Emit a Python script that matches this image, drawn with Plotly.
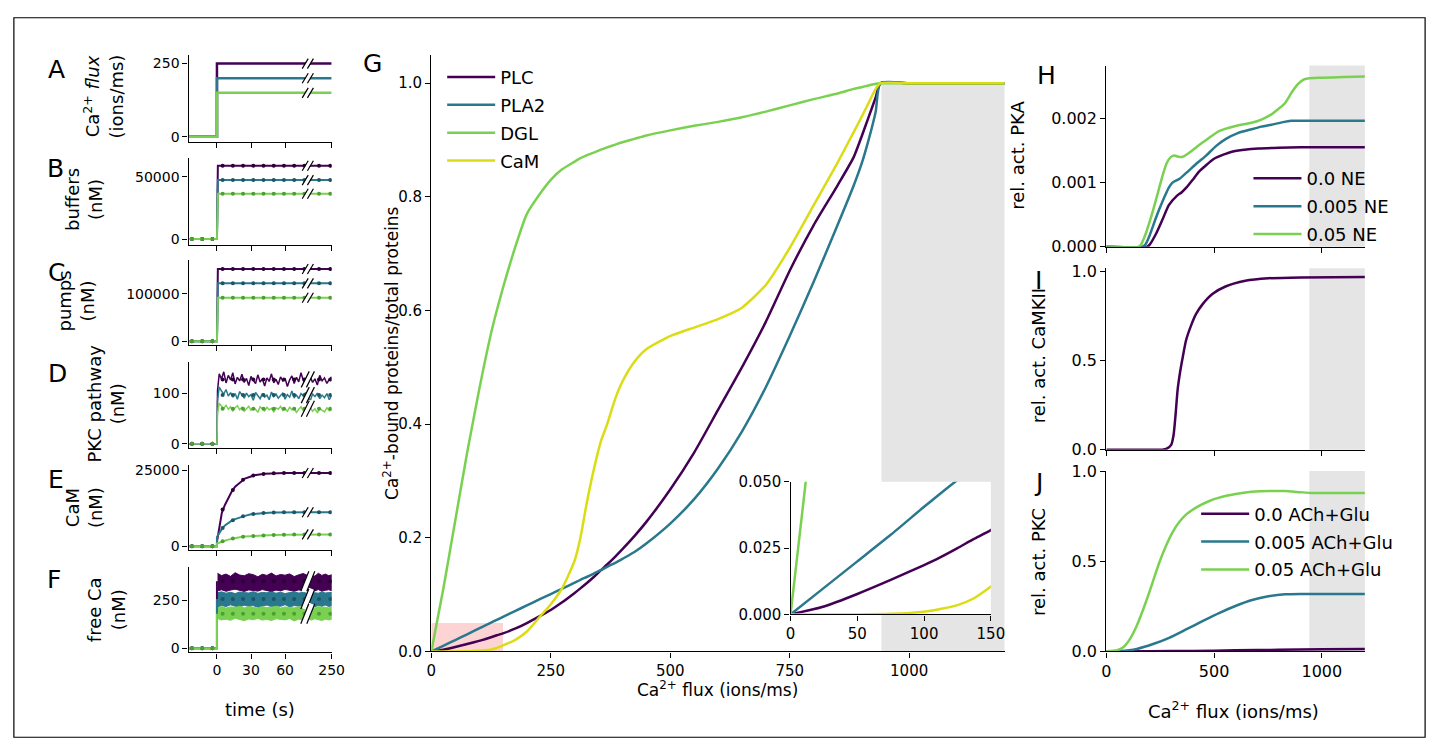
import plotly.graph_objects as go

PAGE_W, PAGE_H = 1447, 756
OX, OY = 0, 0
FW, FH = PAGE_W - 2 * OX, PAGE_H - 2 * OY

C_PURPLE = '#440154'
C_TEAL = '#2a788e'
C_GREEN = '#7ad151'
C_YELLOW = '#dcdc14'
LINE_COLORS = [C_PURPLE, C_TEAL, C_GREEN]
DOT_COLORS = ['#2a0036', '#1b5566', '#4e9f33']
GRAY = '#e5e5e5'
PINK = '#fcd4d4'

# ---------------- left column (A-F): time courses ----------------
T_START, T_BREAK, T_END, P_END = -25, 80, 250, 101
time_ticks = [0, 30, 60, 250]
time_ticklabels = ['0', '30', '60', '250']

flux_levels = [250, 200, 150]            # A  Ca2+ flux (ions/ms)
buffer_levels = [59000, 47500, 36500]    # B  buffers (nM)
pump_levels = [153000, 122500, 92000]    # C  pumps (nM)

mark_times = [-22, -13, -4, 5, 14, 23, 32, 41, 50, 59, 68, 77, 160, 240]

# D  PKC pathway (nM), noisy stochastic traces
D_times = [0.5] + list(range(2, 81, 2)) + [97, 114, 131, 148, 165, 182, 199, 216, 233, 250]
D_purple = [105, 138, 128, 142, 120, 135, 126, 140, 118, 131, 124, 137, 121, 129, 115, 133, 125, 119, 136, 122, 128,
            114, 130, 123, 138, 120, 127, 117, 132, 124, 129, 113, 126, 134, 119, 131, 122, 140, 125, 118, 130,
            133, 121, 128, 116, 135, 124, 130, 119, 127, 132]
D_teal = [85, 112, 104, 98, 107, 94, 101, 92, 99, 88, 103, 95, 90, 100, 93, 97, 86, 101, 94, 89, 99,
          92, 96, 87, 102, 93, 98, 90, 95, 100, 88, 97, 92, 104, 91, 96, 89, 99, 94, 101, 92,
          85, 98, 93, 100, 89, 96, 91, 99, 87, 95]
D_green = [60, 80, 74, 70, 76, 68, 73, 65, 71, 75, 67, 72, 64, 70, 74, 66, 71, 68, 62, 73, 69,
           65, 72, 67, 70, 63, 71, 68, 74, 66, 69, 64, 72, 67, 70, 62, 68, 73, 65, 70, 67,
           72, 64, 69, 61, 70, 66, 63, 71, 65, 68]
D_means = [127, 96, 69]

# E  CaM (nM)
E_times = [0, 2, 4.3, 7, 10, 13, 16, 20, 24.6, 30, 33, 42, 50, 60, 80, 250]
E_purple = [1400, 6500, 11000, 13600, 15800, 18000, 19600, 21000, 22300, 23000, 23400, 23900, 24050, 24130, 24150, 24150]
E_teal = [3000, 4500, 5700, 6800, 7700, 8400, 8900, 9500, 10000, 10500, 10650, 10950, 11100, 11170, 11200, 11200]
E_green = [870, 1200, 1500, 1800, 2150, 2450, 2700, 2950, 3150, 3300, 3380, 3560, 3680, 3760, 3850, 3870]
E_marks_purple = [0, 0, 0, 12100, 18500, 21900, 23300, 23850, 24050, 24120, 24150, 24150, 24150, 24150]
E_marks_teal = [0, 0, 0, 6000, 8550, 9900, 10580, 10920, 11100, 11160, 11190, 11200, 11200, 11200]
E_marks_green = [0, 0, 0, 1650, 2550, 3120, 3340, 3540, 3680, 3750, 3820, 3850, 3870, 3870]

# F  free Ca (nM): noisy bands (upper / lower envelope) and means
F_times = [0.5, 4, 8, 12, 16, 20, 24, 28, 32, 36, 40, 44, 48, 52, 56, 60, 64, 68, 72, 76, 80,
           105, 130, 155, 180, 205, 230, 250]
F_purple_hi = [392, 380, 388, 376, 395, 383, 379, 390, 385, 374, 387, 381, 393, 378, 386, 382, 389, 375, 384, 391, 380,
               386, 377, 392, 381, 388, 379, 385]
F_purple_lo = [300, 306, 298, 304, 309, 301, 297, 305, 303, 299, 307, 302, 296, 304, 300, 308, 301, 298, 305, 303, 299,
               304, 300, 307, 298, 303, 306, 301]
F_teal_hi = [290, 295, 288, 293, 286, 294, 291, 289, 296, 287, 292, 290, 294, 288, 293, 286, 291, 295, 289, 292, 287,
             293, 290, 288, 294, 289, 291, 292]
F_teal_lo = [215, 224, 218, 227, 220, 216, 225, 219, 223, 214, 221, 226, 217, 222, 219, 228, 216, 223, 220, 225, 218,
             221, 217, 224, 219, 226, 218, 222]
F_green_hi = [212, 218, 210, 216, 213, 220, 211, 217, 214, 209, 218, 212, 215, 219, 210, 216, 213, 211, 217, 214, 212,
              216, 210, 218, 213, 215, 211, 217]
F_green_lo = [155, 148, 152, 146, 157, 150, 144, 153, 149, 156, 147, 151, 145, 154, 150, 148, 155, 143, 152, 149, 153,
              147, 154, 150, 145, 152, 148, 151]
F_means = [350, 258, 180]

# ---------------- G: Ca2+-bound fraction vs flux ----------------
G_flux = [0, 25, 50, 75, 100, 112, 125, 137, 150, 175, 200, 227, 250, 273, 300, 312, 325, 340, 355, 368,
          385, 400, 425, 450, 500, 550, 600, 650, 700, 750, 800, 850, 884, 900, 915, 930, 940, 1000, 1100, 1200]
G_PLC = [0, 0.003, 0.0077, 0.013, 0.0186, 0.0215, 0.025, 0.0284, 0.0318, 0.04, 0.05, 0.062, 0.073, 0.086, 0.103,
         0.111, 0.12, 0.131, 0.143, 0.153, 0.167, 0.18, 0.203, 0.228, 0.285, 0.35, 0.425, 0.5, 0.58, 0.67, 0.75,
         0.82, 0.87, 0.905, 0.94, 0.975, 1.0, 1.0, 1.0, 1.0]
G_PLA2 = [0, 0.01, 0.02, 0.03, 0.0406, 0.0455, 0.0507, 0.0556, 0.061, 0.071, 0.081, 0.092, 0.101, 0.11, 0.121,
          0.126, 0.131, 0.137, 0.143, 0.149, 0.156, 0.163, 0.175, 0.19, 0.225, 0.268, 0.322, 0.387, 0.465, 0.555,
          0.65, 0.75, 0.82, 0.857, 0.9, 0.95, 1.0, 1.0, 1.0, 1.0]
G_DGL = [0, 0.11, 0.23, 0.35, 0.46, 0.51, 0.56, 0.6, 0.64, 0.71, 0.77, 0.805, 0.83, 0.848, 0.862, 0.868, 0.873,
         0.878, 0.883, 0.887, 0.892, 0.896, 0.902, 0.908, 0.917, 0.925, 0.932, 0.94, 0.95, 0.961, 0.972, 0.982,
         0.99, 0.993, 0.996, 0.999, 1.0, 1.0, 1.0, 1.0]
G_CaM = [0, 0, 0, 0.0002, 0.001, 0.002, 0.0035, 0.006, 0.0105, 0.02, 0.035, 0.061, 0.083, 0.11, 0.16, 0.2, 0.26,
         0.32, 0.37, 0.4, 0.445, 0.475, 0.51, 0.532, 0.555, 0.57, 0.585, 0.605, 0.645, 0.71, 0.785, 0.86, 0.914,
         0.94, 0.965, 0.99, 1.0, 1.0, 1.0, 1.0]
G_names = ['PLC', 'PLA2', 'DGL', 'CaM']
G_colors = [C_PURPLE, C_TEAL, C_GREEN, C_YELLOW]
G_series = [G_PLC, G_PLA2, G_DGL, G_CaM]

SAT_START, SAT_END = 942, 1200   # grey saturation region

# ---------------- H: PKA ----------------
H_names = ['0.0 NE', '0.005 NE', '0.05 NE']
H_x0 = [0, 188, 200, 230, 260, 290, 326, 350, 371, 400, 430, 463, 500, 540, 583, 640, 706, 800, 900, 1000, 1200]
H_y0 = [0, 0, 0.00003, 0.0002, 0.00042, 0.00065, 0.00079, 0.00085, 0.00092, 0.00104, 0.00117, 0.00127, 0.00137,
        0.00143, 0.00148, 0.00151, 0.00153, 0.00154, 0.00155, 0.00155, 0.00155]
H_x1 = [0, 165, 180, 200, 230, 260, 290, 307, 340, 371, 420, 463, 510, 555, 610, 674, 720, 766, 820, 858, 900, 1000, 1200]
H_y1 = [0, 0, 0.00003, 0.00017, 0.00045, 0.0007, 0.00092, 0.001, 0.00106, 0.00115, 0.0013, 0.00142, 0.00157, 0.00168,
        0.00177, 0.00183, 0.00187, 0.0019, 0.00194, 0.00196, 0.00196, 0.00196, 0.00196]
H_x2 = [0, 147, 160, 180, 200, 216, 240, 262, 280, 300, 316, 335, 353, 375, 399, 450, 523, 600, 674, 720, 766, 800,
        828, 860, 889, 915, 935, 1000, 1100, 1200]
H_y2 = [0, 0, 0.00003, 0.00018, 0.00038, 0.00056, 0.00085, 0.00112, 0.0013, 0.0014, 0.00142, 0.0014, 0.0014, 0.00144,
        0.0015, 0.00163, 0.0018, 0.00188, 0.00193, 0.00198, 0.00206, 0.00215, 0.00223, 0.0024, 0.00253, 0.0026,
        0.00262, 0.00263, 0.00264, 0.00265]

# ---------------- I: CaMKII ----------------
I_x = [0, 260, 278, 301, 312, 321, 331, 344, 355, 370, 393, 416, 446, 492, 553, 645, 752, 905, 1200]
I_y = [0, 0, 0.004, 0.027, 0.082, 0.192, 0.338, 0.448, 0.521, 0.613, 0.695, 0.759, 0.814, 0.872, 0.914, 0.946,
       0.96, 0.965, 0.967]

# ---------------- J: PKC ----------------
J_names = ['0.0 ACh+Glu', '0.005 ACh+Glu', '0.05 ACh+Glu']
J_x0 = [0, 200, 400, 600, 800, 1000, 1200]
J_y0 = [0, 0.001, 0.003, 0.006, 0.009, 0.012, 0.014]
J_x1 = [0, 64, 141, 217, 294, 370, 446, 523, 599, 676, 752, 829, 905, 982, 1200]
J_y1 = [0, 0.002, 0.014, 0.041, 0.077, 0.122, 0.168, 0.213, 0.252, 0.285, 0.306, 0.317, 0.319, 0.319, 0.319]
J_x2 = [0, 50, 80, 110, 140, 170, 200, 225, 248, 275, 307, 340, 371, 420, 470, 523, 600, 674, 760, 828, 900, 950, 1200]
J_y2 = [0, 0.007, 0.025, 0.07, 0.14, 0.23, 0.33, 0.42, 0.5, 0.58, 0.66, 0.72, 0.76, 0.8, 0.83, 0.853, 0.873,
        0.885, 0.89, 0.889, 0.883, 0.879, 0.878]


# ---------------- helpers ----------------
def tpos(t):
    """broken time axis: linear up to T_BREAK, compressed afterwards"""
    if t <= T_BREAK:
        return t
    return T_BREAK + (t - T_BREAK) * (P_END - T_BREAK) / (T_END - T_BREAK)


def tp(ts):
    return [tpos(t) for t in ts]


def ref(n, letter):
    return letter if n == 1 else f'{letter}{n}'


def axname(n, letter):
    return f'{letter}axis' if n == 1 else f'{letter}axis{n}'


def px(x):
    return (x - OX) / FW


def py(y):
    return 1 - (y - OY) / FH


def xdom(a, b):
    return [px(a), px(b)]


def ydom(top, bottom):
    return [py(bottom), py(top)]


FONT = 'DejaVu Sans'
BASE = dict(showline=True, linecolor='black', linewidth=1.3, ticks='outside', ticklen=5, tickwidth=1.3,
            tickcolor='black', showgrid=False, zeroline=False, fixedrange=True, layer='above traces')
SMOOTH = dict(shape='spline', smoothing=0.6)

fig = go.Figure()
layout = {}
shapes = []
annotations = []

# ---------------- left panels axes ----------------
left_dom = [(47, 136), (153, 242), (257, 345), (362, 450), (468, 555), (572, 660)]
left_ranges = [[-16.7, 280], [-4700, 65150], [-8900, 173000], [-7.7, 161.5], [-1290, 26700], [-22, 427]]
left_yticks = [[0, 250], [0, 50000], [0, 100000], [0, 100], [0, 25000], [0, 250]]
for i in range(6):
    n = i + 1
    top, bot = left_dom[i]
    layout[axname(n, 'x')] = dict(BASE, domain=xdom(186, 331), range=[T_START, P_END], anchor=ref(n, 'y'),
                                  tickvals=tp(time_ticks), ticktext=time_ticklabels,
                                  showticklabels=(i == 5), tickfont=dict(size=14))
    layout[axname(n, 'y')] = dict(BASE, domain=ydom(top, bot), range=left_ranges[i], anchor=ref(n, 'x'),
                                  tickvals=left_yticks[i], ticktext=[str(v) for v in left_yticks[i]],
                                  tickfont=dict(size=14))


def add_marks(n, values, k):
    fig.add_trace(go.Scatter(x=tp(mark_times), y=values, mode='markers',
                             marker=dict(size=4, color=DOT_COLORS[k]), xaxis=ref(n, 'x'), yaxis=ref(n, 'y'),
                             showlegend=False, hoverinfo='skip'))


def break_mark(n, yval, hh, hw=3.0, gap=2.6, wwhite=4.0):
    base = dict(type='line', xref=ref(n, 'x'), yref=ref(n, 'y'), xsizemode='pixel', ysizemode='pixel',
                xanchor=tpos(T_BREAK), yanchor=yval, layer='above')
    out = [dict(base, x0=-hw, x1=hw, y0=-hh, y1=hh, line=dict(color='white', width=wwhite))]
    for off in (-gap, gap):
        out.append(dict(base, x0=-hw + off, x1=hw + off, y0=-hh, y1=hh, line=dict(color='black', width=1.2)))
    return out


# A
for k in range(3):
    fig.add_trace(go.Scatter(x=tp([T_START, 0, 0, T_END]), y=[0, 0, flux_levels[k], flux_levels[k]], mode='lines',
                             line=dict(color=LINE_COLORS[k], width=2.5), xaxis='x', yaxis='y', showlegend=False))
    shapes += break_mark(1, flux_levels[k], 5)

# B, C
for n, levels in ((2, buffer_levels), (3, pump_levels)):
    for k in range(3):
        fig.add_trace(go.Scatter(x=tp([T_START, 0, 0.8, T_END]), y=[0, 0, levels[k], levels[k]], mode='lines',
                                 line=dict(color=LINE_COLORS[k], width=2), xaxis=ref(n, 'x'), yaxis=ref(n, 'y'),
                                 showlegend=False))
        add_marks(n, [0, 0, 0] + [levels[k]] * (len(mark_times) - 3), k)
        shapes += break_mark(n, levels[k], 5)

# D
for k, vals in enumerate([D_purple, D_teal, D_green]):
    fig.add_trace(go.Scatter(x=tp([T_START, 0] + D_times), y=[0, 0] + vals, mode='lines',
                             line=dict(color=LINE_COLORS[k], width=1.5), xaxis='x4', yaxis='y4', showlegend=False))
for k in range(3):
    add_marks(4, [0, 0, 0] + [D_means[k]] * (len(mark_times) - 3), k)
    shapes += break_mark(4, D_means[k], 8, hw=4, wwhite=5)

# E
for k, (vals, mk) in enumerate([(E_purple, E_marks_purple), (E_teal, E_marks_teal), (E_green, E_marks_green)]):
    fig.add_trace(go.Scatter(x=tp([T_START, 0] + E_times), y=[0, 0] + vals, mode='lines',
                             line=dict(color=LINE_COLORS[k], width=2), xaxis='x5', yaxis='y5', showlegend=False))
    add_marks(5, mk, k)
    shapes += break_mark(5, vals[-1], 5)

# F
bands = [(F_purple_hi, F_purple_lo), (F_teal_hi, F_teal_lo), (F_green_hi, F_green_lo)]
for k, (hi, lo) in enumerate(bands):
    fig.add_trace(go.Scatter(x=tp(F_times) + tp(F_times[::-1]), y=hi + lo[::-1], mode='lines', fill='toself',
                             fillcolor=LINE_COLORS[k], line=dict(color=LINE_COLORS[k], width=1),
                             xaxis='x6', yaxis='y6', showlegend=False, hoverinfo='skip'))
for k in range(3):
    fig.add_trace(go.Scatter(x=tp([T_START, 0, 0]), y=[0, 0, F_means[k]], mode='lines',
                             line=dict(color=LINE_COLORS[k], width=2), xaxis='x6', yaxis='y6', showlegend=False))
    add_marks(6, [0, 0, 0] + [F_means[k]] * (len(mark_times) - 3), k)
    shapes += break_mark(6, F_means[k], 10, hw=4, gap=3, wwhite=6)

# ---------------- G ----------------
layout['xaxis7'] = dict(BASE, domain=xdom(432, 1013), range=[0, 1200], anchor='y7',
                        tickvals=[0, 250, 500, 750, 1000], tickfont=dict(size=15))
layout['yaxis7'] = dict(BASE, domain=ydom(47, 659), range=[0, 1.05], anchor='x7',
                        tickvals=[0, 0.2, 0.4, 0.6, 0.8, 1.0], ticktext=['0.0', '0.2', '0.4', '0.6', '0.8', '1.0'],
                        tickfont=dict(size=15))
shapes.append(dict(type='rect', xref='x7', yref='y7', x0=SAT_START, x1=SAT_END, y0=0, y1=1.0,
                   fillcolor=GRAY, line=dict(width=0), layer='below'))
shapes.append(dict(type='rect', xref='x7', yref='y7', x0=0, x1=150, y0=0, y1=0.05,
                   fillcolor=PINK, line=dict(width=0), layer='below'))
for name, col, ys in zip(G_names, G_colors, G_series):
    fig.add_trace(go.Scatter(x=G_flux, y=ys, mode='lines', name=name, line=dict(color=col, width=2.5, **SMOOTH),
                             xaxis='x7', yaxis='y7', legend='legend', legendgroup='g' + name))

# inset
layout['xaxis8'] = dict(BASE, domain=xdom(796, 999), range=[0, 150], anchor='y8',
                        tickvals=[0, 50, 100, 150], tickfont=dict(size=15))
layout['yaxis8'] = dict(BASE, domain=ydom(485, 621), range=[0, 0.05], anchor='x8',
                        tickvals=[0, 0.025, 0.05], ticktext=['0.000', '0.025', '0.050'], tickfont=dict(size=15))
shapes.append(dict(type='rect', xref='x8 domain', yref='y8 domain', x0=0, x1=1, y0=0, y1=1,
                   fillcolor='white', line=dict(width=0), layer='below'))
for name, col, ys in zip(G_names, G_colors, G_series):
    fig.add_trace(go.Scatter(x=G_flux, y=ys, mode='lines', line=dict(color=col, width=2.5, **SMOOTH),
                             xaxis='x8', yaxis='y8', showlegend=False))

# ---------------- H, I, J ----------------
right_dom = {9: (58, 244), 10: (266, 452), 11: (474, 659)}
right_range = {9: [0, 0.00282], 10: [0, 1.016], 11: [0, 1.0]}
right_ticks = {9: ([0, 0.001, 0.002], ['0.000', '0.001', '0.002']),
               10: ([0, 0.5, 1.0], ['0.0', '0.5', '1.0']),
               11: ([0, 0.5, 1.0], ['0.0', '0.5', '1.0'])}
for n in (9, 10, 11):
    top, bot = right_dom[n]
    layout[axname(n, 'x')] = dict(BASE, domain=xdom(1116, 1378), range=[0, 1200], anchor=ref(n, 'y'),
                                  tickvals=[0, 500, 1000], showticklabels=(n == 11), tickfont=dict(size=16))
    layout[axname(n, 'y')] = dict(BASE, domain=ydom(top, bot), range=right_range[n], anchor=ref(n, 'x'),
                                  tickvals=right_ticks[n][0], ticktext=right_ticks[n][1], tickfont=dict(size=16))
    shapes.append(dict(type='rect', xref=ref(n, 'x'), yref=f'{ref(n, "y")} domain', x0=SAT_START, x1=SAT_END,
                       y0=0, y1=1, fillcolor=GRAY, line=dict(width=0), layer='below'))

for k, (xs, ys) in enumerate([(H_x0, H_y0), (H_x1, H_y1), (H_x2, H_y2)]):
    fig.add_trace(go.Scatter(x=xs, y=ys, mode='lines', name=H_names[k],
                             line=dict(color=LINE_COLORS[k], width=2.5, **SMOOTH),
                             xaxis='x9', yaxis='y9', legend='legend2', legendgroup='h' + H_names[k]))
fig.add_trace(go.Scatter(x=I_x, y=I_y, mode='lines', line=dict(color=C_PURPLE, width=2.5, **SMOOTH),
                         xaxis='x10', yaxis='y10', showlegend=False))
for k, (xs, ys) in enumerate([(J_x0, J_y0), (J_x1, J_y1), (J_x2, J_y2)]):
    fig.add_trace(go.Scatter(x=xs, y=ys, mode='lines', name=J_names[k],
                             line=dict(color=LINE_COLORS[k], width=2.5, **SMOOTH),
                             xaxis='x11', yaxis='y11', legend='legend3', legendgroup='j' + J_names[k]))

# ---------------- text ----------------
def ann(text, x, y, size=18, angle=0):
    annotations.append(dict(text=text, x=px(x), y=py(y), xref='paper', yref='paper', showarrow=False,
                            xanchor='center', yanchor='middle', textangle=angle,
                            font=dict(family=FONT, size=size, color='black')))


for letter, (x, y) in zip('ABCDEFGHIJ', [(52, 62), (51, 164), (52, 270), (53, 374), (52, 483), (50, 585),
                                         (372, 56), (1055, 68), (1047, 279), (1047, 486)]):
    ann(letter, x, y, size=25)

ann('Ca<sup>2+</sup> <i>flux</i><br>(ions/ms)', 100, 90, angle=-90)
ann('buffers<br>(nM)', 80, 195, angle=-90)
ann('pumps<br>(nM)', 72, 300, angle=-90)
ann('PKC pathway<br>(nM)', 102, 405, angle=-90)
ann('CaM<br>(nM)', 80, 511, angle=-90)
ann('free Ca<br>(nM)', 102, 616, angle=-90)
ann('time (s)', 258, 719)
ann('Ca<sup>2+</sup>-bound proteins/total proteins', 391, 353, size=17, angle=-90)
ann('Ca<sup>2+</sup> flux (ions/ms)', 722, 698, size=17)
ann('rel. act. PKA', 1026, 150, angle=-90)
ann('rel. act. CaMKII', 1047, 355, angle=-90)
ann('rel. act. PKC', 1047, 567, angle=-90)
ann('Ca<sup>2+</sup> flux (ions/ms)', 1245, 719)

# figure frame
shapes.append(dict(type='rect', xref='paper', yref='paper', x0=px(9), x1=px(1439), y0=py(747), y1=py(9),
                   line=dict(color='black', width=1.2), fillcolor='rgba(0,0,0,0)', layer='above'))

leg_common = dict(bgcolor='rgba(0,0,0,0)', borderwidth=0, font=dict(family=FONT, size=18, color='black'),
                  xanchor='left', yanchor='top', itemclick=False, itemdoubleclick=False,
                  itemwidth=48, tracegroupgap=1.5)
layout['legend'] = dict(leg_common, x=px(443), y=py(51))
layout['legend2'] = dict(leg_common, x=px(1260), y=py(155))
layout['legend3'] = dict(leg_common, x=px(1207), y=py(499))

fig.update_layout(**layout)
fig.update_layout(width=FW, height=FH, margin=dict(l=0, r=0, t=0, b=0), paper_bgcolor='white',
                  plot_bgcolor='white', font=dict(family=FONT, color='black'),
                  shapes=shapes, annotations=annotations, hovermode=False)

fig.write_html('out.html')
